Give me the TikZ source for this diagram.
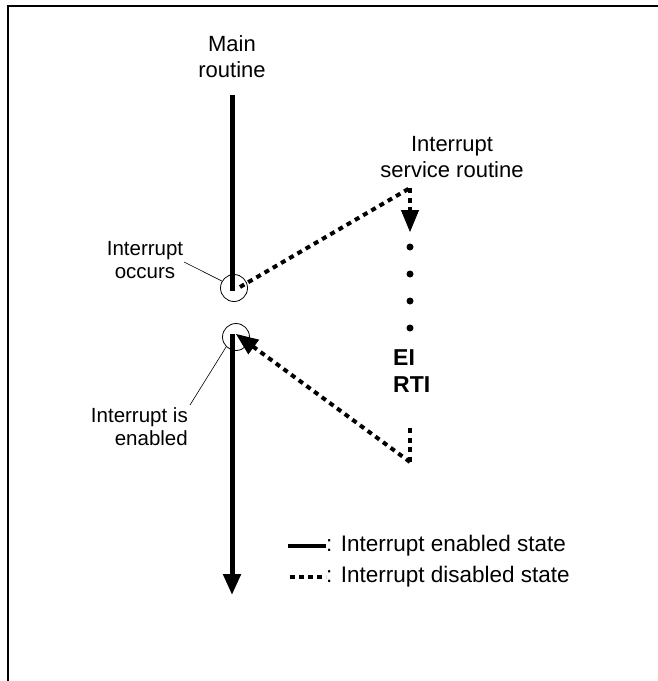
\documentclass[tikz,border=0pt]{standalone}
\usepackage{fontspec}
\setmainfont{Liberation Sans}
\usepackage{tikz}
\usetikzlibrary{arrows.meta,calc}

\begin{document}
\begin{tikzpicture}[x=1pt,y=-1pt,line join=miter,
    enabled/.style={line width=5pt},
    disabled/.style={line width=4pt,dash pattern=on 5pt off 4.5pt},
    bigtip/.style={-{Triangle[length=21pt,width=17pt]}},
    label/.style={font=\fontsize{20.5}{23}\selectfont,inner sep=0pt},
    legendtext/.style={font=\fontsize{22.5}{25}\selectfont,inner sep=0pt,anchor=west},
    title/.style={font=\fontsize{22}{26}\selectfont,align=center,inner sep=0pt},
    ring/.style={circle,draw,line width=0.8pt,minimum size=27pt,inner sep=0pt},
    dot/.style={circle,fill,minimum size=7pt,inner sep=0pt}]
  \useasboundingbox (0,0) rectangle (658,681);
  \def\Mx{232}  % main routine column
  \def\Ix{410}  % interrupt service routine column
  % frame (runs off the right and bottom edge)
  \draw[line width=2.8pt] (8,690) -- (8,6) -- (670,6);
  % headings
  \node[title] (main) at (\Mx,57) {Main\\routine};
  \node[title] (isr) at (452,157) {Interrupt\\service routine};
  % main routine before and after the interrupt
  \coordinate (mtop) at (\Mx,95);
  \coordinate (mstop) at (\Mx,291);
  \coordinate (mgo) at (\Mx,334);
  \coordinate (mend) at (\Mx,595);
  \draw[enabled] (mtop) -- (mstop);
  \draw[enabled,bigtip] (mgo) -- (mend);
  % marker circles
  \node[ring] (occ) at (234,288) {};
  \node[ring] (ena) at (236,337) {};
  % service routine
  \coordinate (istart) at (\Ix,188);
  \coordinate (ihead) at (\Ix,232);
  \coordinate (itail) at (\Ix,428);
  \coordinate (iend) at (\Ix,462);
  \coordinate (back) at (236,334);
  \draw[disabled] (240,287) -- (istart);
  \draw[disabled] (istart) -- ($(istart)!0.55!(ihead)$);
  \draw[line width=1pt,-{Triangle[length=22pt,width=18pt]}] ($(istart)!0.5!(ihead)$) -- (ihead);
  \foreach \y in {247,274,301,328}
    \node[dot] (d\y) at (\Ix,\y) {};
  \node[font=\bfseries\fontsize{23}{27}\selectfont,align=left,anchor=west,inner sep=0pt]
    (code) at (393,371) {EI\\RTI};
  \draw[disabled] (itail) -- (iend);
  \draw[disabled,shorten >=17pt] (iend) -- (back);
  \draw[line width=1pt,-{Triangle[length=22pt,width=18pt]}] ($(back)!20pt!(iend)$) -- (back);
  % side labels with leaders
  \node[label,align=center] (occlbl) at (145,260) {Interrupt\\occurs};
  \draw[line width=0.6pt] (184,262) -- (occ.150);
  \node[label,align=right,anchor=east] (enalbl) at (188,427) {Interrupt is\\enabled};
  \draw[line width=0.6pt] (190,405) -- (ena.225);
  % legend
  \coordinate (l1a) at (288,546);
  \coordinate (l1b) at (326,546);
  \coordinate (l2a) at (290,577);
  \coordinate (l2b) at (326,577);
  \draw[line width=4pt] (l1a) -- (l1b);
  \draw[line width=3.5pt,dash pattern=on 5pt off 4pt] (l2a) -- (l2b);
  \node[legendtext] (leg1) at (l1b) {: Interrupt enabled state};
  \node[legendtext] (leg2) at (l2b) {: Interrupt disabled state};
\end{tikzpicture}
\end{document}
